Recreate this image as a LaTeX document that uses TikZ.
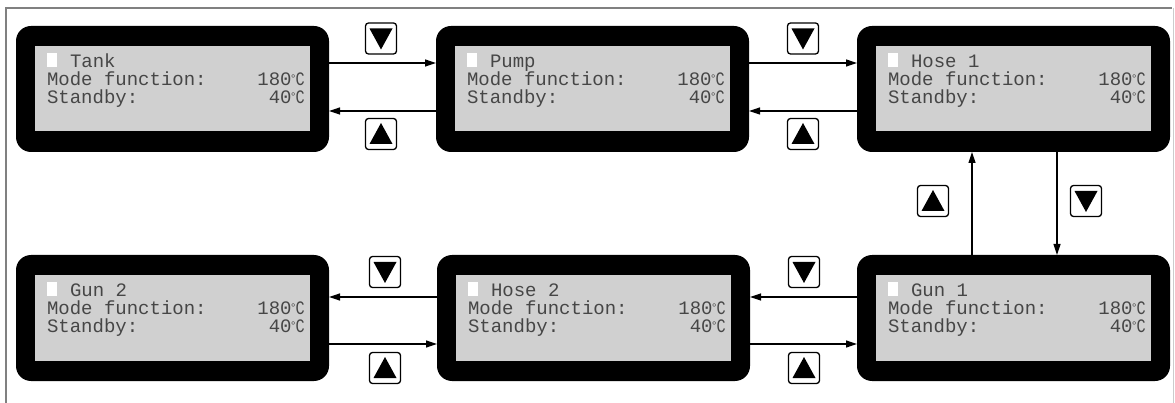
\documentclass[tikz,border=0pt]{standalone}
\usepackage{fontspec}
\usepackage{graphicx}
\newfontfamily\lcdfont{Liberation Mono}
\usetikzlibrary{arrows.meta,calc}
\definecolor{lcdgray}{RGB}{208,208,208}
\definecolor{lcdink}{RGB}{70,70,70}
\newcommand\degC{\makebox[11.4pt][c]{\raisebox{3pt}{\scalebox{0.6}{°}}\kern-1.2pt\scalebox{0.8}[1]{C}}}
\newcommand\lcddisplay[4]{%
  \node[display, anchor=north west] (#1) at (#2,#3) {};
  \node[screen] (#1s) at (#1.center) {};
  \fill[white] ($(#1s.north west)+(12,7)$) rectangle +(10,14);
  \node[lcdtext, anchor=base west] (#1t) at ($(#1s.north west)+(35,21)$) {#4};
  \node[lcdtext, anchor=base west] (#1m) at ($(#1s.north west)+(12,39)$) {Mode function:};
  \node[lcdtext, anchor=base west] (#1b) at ($(#1s.north west)+(12,57)$) {Standby:};
  \node[lcdtext, anchor=base east] (#1v) at ($(#1s.north east)+(-7,39)$) {180\degC};
  \node[lcdtext, anchor=base east] (#1w) at ($(#1s.north east)+(-7,57)$) {40\degC};
}
\begin{document}
\begin{tikzpicture}[x=1pt,y=-1pt,
  display/.style={fill=black, rounded corners=15pt, minimum width=313pt, minimum height=126pt, inner sep=0pt, outer sep=0pt},
  screen/.style={fill=lcdgray, minimum width=275pt, minimum height=85pt, inner sep=0pt, outer sep=0pt},
  lcdtext/.style={inner sep=0pt, outer sep=0pt, text=lcdink, font=\lcdfont\fontsize{19}{19}\selectfont},
  conn/.style={line width=1.2pt, -{Triangle[length=11pt,width=7pt]}},
  btn/.style={draw, line width=1.3pt, rounded corners=3pt, minimum size=31pt, inner sep=0pt, fill=white},
  btndown/.style={btn, path picture={\fill[black, sharp corners] ($(path picture bounding box.center)+(-11.5,-10)$) -- ++(23,0) -- ++(-11.5,21) -- cycle;}},
  btnup/.style={btn, path picture={\fill[black, sharp corners] ($(path picture bounding box.center)+(-11.5,10)$) -- ++(23,0) -- ++(-11.5,-21) -- cycle;}}
]
\useasboundingbox (0,0) rectangle (1175,403);
\draw[gray, line width=1.6pt] (6,403) -- (6,8) -- (1172,8);
\draw[black!20, line width=0.8pt] (1173.5,8) -- (1173.5,403);

\lcddisplay{tank}{16}{26}{Tank}
\lcddisplay{pump}{436}{26}{Pump}
\lcddisplay{hoseone}{857}{26}{Hose 1}
\lcddisplay{guntwo}{16}{255}{Gun 2}
\lcddisplay{hosetwo}{437}{255}{Hose 2}
\lcddisplay{gunone}{857}{255}{Gun 1}

% top row connectors
\draw[conn] ([yshift=26pt]tank.east) -- ([yshift=26pt]pump.west);
\draw[conn] ([yshift=-22pt]pump.west) -- ([yshift=-22pt]tank.east);
\draw[conn] ([yshift=26pt]pump.east) -- ([yshift=26pt]hoseone.west);
\draw[conn] ([yshift=-22pt]hoseone.west) -- ([yshift=-22pt]pump.east);
% vertical connectors
\draw[conn] ([xshift=-41.5pt]gunone.north) -- ([xshift=-41.5pt]hoseone.south);
\draw[conn] ([xshift=43.5pt]hoseone.south) -- ([xshift=43.5pt]gunone.north);
% bottom row connectors
\draw[conn] ([yshift=21pt]gunone.west) -- ([yshift=21pt]hosetwo.east);
\draw[conn] ([yshift=-26pt]hosetwo.east) -- ([yshift=-26pt]gunone.west);
\draw[conn] ([yshift=21pt]hosetwo.west) -- ([yshift=21pt]guntwo.east);
\draw[conn] ([yshift=-26pt]guntwo.east) -- ([yshift=-26pt]hosetwo.west);

% buttons
\node[btndown] (b1) at (381,38.5) {};
\node[btnup]   (b2) at (381,134) {};
\node[btndown] (b3) at (803,38.5) {};
\node[btnup]   (b4) at (803,134) {};
\node[btnup]   (b5) at (933,201) {};
\node[btndown] (b6) at (1086,201) {};
\node[btndown] (b7) at (385,272) {};
\node[btnup]   (b8) at (385,368) {};
\node[btndown] (b9) at (804,272) {};
\node[btnup]   (b10) at (804,368) {};
\end{tikzpicture}
\end{document}
